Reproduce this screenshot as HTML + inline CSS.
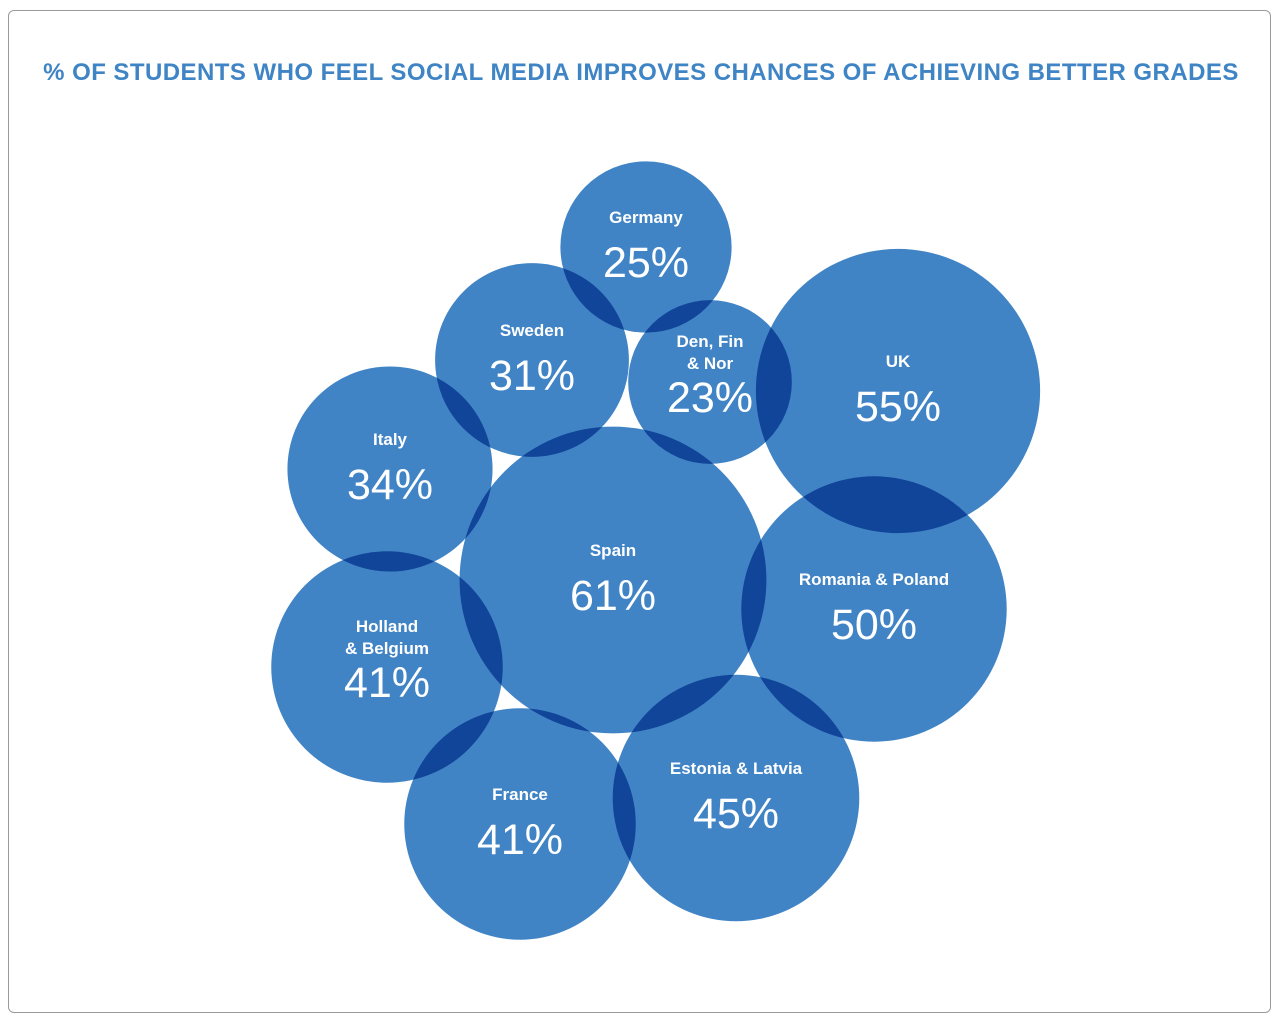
<!DOCTYPE html>
<html><head><meta charset="utf-8"><style>
body{margin:0;background:#fff;width:1282px;height:1024px;overflow:hidden;font-family:"Liberation Sans",sans-serif}
#frame{position:absolute;left:8px;top:10px;width:1263px;height:1003px;border:1px solid #9a9a9a;border-radius:6px;box-sizing:border-box}
#title{position:absolute;left:0;width:1282px;top:59px;text-align:center;color:#3f84c5;font-weight:bold;font-size:24px;letter-spacing:0.45px}
svg{position:absolute;left:0;top:0}
circle{mix-blend-mode:multiply}
</style></head><body>
<div id="frame"></div>
<div id="title">% OF STUDENTS WHO FEEL SOCIAL MEDIA IMPROVES CHANCES OF ACHIEVING BETTER GRADES</div>
<svg id="chart" width="1282" height="1024"></svg>
<script>
const countries=["Germany","Sweden","Den, Fin|& Nor","UK","Italy","Spain","Romania & Poland","Holland|& Belgium","France","Estonia & Latvia"];
const values=[25,31,23,55,34,61,50,41,41,45];
const layoutX=[646,532,710,898,390,613,874,387,520,736];
const layoutY=[247,360,382,391,469,580,609,667,824,798];
function rScale(v){return 38.5+1.884*v;}
const svg=document.getElementById('chart');
const NS="http://www.w3.org/2000/svg";
const g=document.createElementNS(NS,'g');svg.appendChild(g);
const tg=document.createElementNS(NS,'g');svg.appendChild(tg);
values.forEach((v,i)=>{
  const c=document.createElementNS(NS,'circle');
  c.setAttribute('cx',layoutX[i]);c.setAttribute('cy',layoutY[i]);c.setAttribute('r',rScale(v));
  c.setAttribute('fill','#4184c6');
  
  
  g.appendChild(c);
  const lines=countries[i].split('|');
  const cy=layoutY[i];
  lines.forEach((ln,j)=>{
    const t=document.createElementNS(NS,'text');
    const y=lines.length===1?cy-24:cy-35+j*22;
    t.setAttribute('x',layoutX[i]);t.setAttribute('y',y);
    t.setAttribute('text-anchor','middle');t.setAttribute('fill','#fff');
    t.setAttribute('font-size','17');t.setAttribute('font-weight','bold');
    t.textContent=ln;
    
    
    tg.appendChild(t);
  });
  const p=document.createElementNS(NS,'text');
  p.setAttribute('x',layoutX[i]);p.setAttribute('y',cy+30);
  p.setAttribute('text-anchor','middle');p.setAttribute('fill','#fff');
  p.setAttribute('font-size','43');
  p.textContent=v+'%';
  
  
  tg.appendChild(p);
});
</script>
</body></html>
